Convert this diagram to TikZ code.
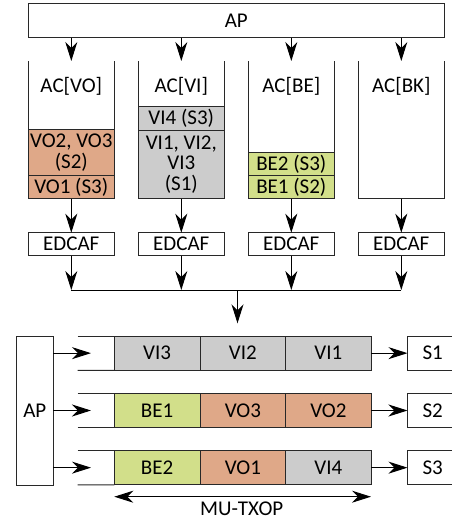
\documentclass[tikz,border=0pt]{standalone}
\usepackage{fontspec}
\setmainfont{Carlito}
\usetikzlibrary{arrows.meta}
\definecolor{voc}{RGB}{223,168,136}
\definecolor{vic}{RGB}{204,204,204}
\definecolor{bec}{RGB}{210,223,138}
\definecolor{ln}{RGB}{40,40,40}
\begin{document}
\begin{tikzpicture}[x=1pt,y=-1pt,
  lw/.style={line width=1pt, draw=ln},
  txt/.style={font=\fontsize{21}{20.5}\selectfont, align=center, inner sep=0pt},
  box/.style={lw, rectangle, inner sep=0pt, outer sep=0pt, txt},
  queue/.style={rectangle, inner sep=0pt, outer sep=0pt, minimum width=85.5, minimum height=137.7},
  arr/.style={line width=1pt, draw=black, -{Stealth[length=19pt,width=12pt,inset=6pt]}},
  arrb/.style={line width=1pt, draw=black, {Stealth[length=19pt,width=12pt,inset=6pt]}-{Stealth[length=19pt,width=12pt,inset=6pt]}},
  cell/.style={box, minimum width=85.7, minimum height=34.3},
  sbox/.style={box, minimum width=50.5, minimum height=34.3},
]
\useasboundingbox (0,0) rectangle (452,520);

% top AP
\node[box, minimum width=415.5, minimum height=34.2] (ap) at (236.3,20.6) {AP};

% queues
\node[queue] (qvo) at (71.3,129.85) {};
\node[queue] (qvi) at (181.3,129.85) {};
\node[queue] (qbe) at (291.3,129.85) {};
\node[queue] (qbk) at (401.3,129.85) {};

% queue contents
\node[box, fill=voc, minimum width=85.5, minimum height=46.4] (vo23) at (71.3,152.5) {VO2, VO3\\(S2)};
\node[box, fill=voc, minimum width=85.5, minimum height=23] (vo1) at (71.3,187.2) {VO1 (S3)};
\node[box, fill=vic, minimum width=85.5, minimum height=23.3] (vi4) at (181.3,118.35) {VI4 (S3)};
\node[box, fill=vic, minimum width=85.5, minimum height=68.7] (vi123) at (181.3,164.35) {VI1, VI2,\\VI3\\(S1)};
\node[box, fill=bec, minimum width=85.5, minimum height=23] (be2) at (291.3,164.2) {BE2 (S3)};
\node[box, fill=bec, minimum width=85.5, minimum height=23] (be1) at (291.3,187.2) {BE1 (S2)};

\foreach \q in {qvo,qvi,qbe,qbk}{
  \draw[lw] (\q.north west) -- (\q.south west) -- (\q.south east) -- (\q.north east);
}

\node[txt] (lvo) at (71.3,86) {AC[VO]};
\node[txt] (lvi) at (181.3,86) {AC[VI]};
\node[txt] (lbe) at (291.3,86) {AC[BE]};
\node[txt] (lbk) at (401.3,86) {AC[BK]};

% EDCAF
\node[box, minimum width=85.5, minimum height=23] (e1) at (71.3,244.2) {EDCAF};
\node[box, minimum width=85.5, minimum height=23] (e2) at (181.3,244.2) {EDCAF};
\node[box, minimum width=85.5, minimum height=23] (e3) at (291.3,244.2) {EDCAF};
\node[box, minimum width=85.5, minimum height=23] (e4) at (401.3,244.2) {EDCAF};

% arrows AP -> queues -> EDCAF
\foreach \q/\e in {qvo/e1,qvi/e2,qbe/e3,qbk/e4}{
  \draw[arr] (ap.south -| \q.north) -- (\q.north);
  \draw[arr] (\q.south) -- (\e.north);
}

% merge
\coordinate (m1) at (71.3,290);
\coordinate (m2) at (181.3,290);
\coordinate (m3) at (291.3,290);
\coordinate (m4) at (401.3,290);
\coordinate (mc) at (237.5,290);
\coordinate (mt) at (237.5,323.3);
\draw[arr] (e1.south) -- (m1);
\draw[arr] (e2.south) -- (m2);
\draw[arr] (e3.south) -- (m3);
\draw[arr] (e4.south) -- (m4);
\draw[line width=1pt] (m1) -- (m4);
\draw[arr] (mc) -- (mt);

% lower AP
\node[box, minimum width=37, minimum height=149] (ap2) at (34.8,410.5) {AP};

% rows
\node[cell, fill=vic] (r1a) at (157.15,353.15) {VI3};
\node[cell, fill=vic] (r1b) at (242.85,353.15) {VI2};
\node[cell, fill=vic] (r1c) at (328.35,353.15) {VI1};
\node[cell, fill=bec] (r2a) at (157.15,410.5) {BE1};
\node[cell, fill=voc] (r2b) at (242.85,410.5) {VO3};
\node[cell, fill=voc] (r2c) at (328.35,410.5) {VO2};
\node[cell, fill=bec] (r3a) at (157.15,467.65) {BE2};
\node[cell, fill=voc] (r3b) at (242.85,467.65) {VO1};
\node[cell, fill=vic] (r3c) at (328.35,467.65) {VI4};

\node[sbox] (s1) at (432.75,353.15) {S1};
\node[sbox] (s2) at (432.75,410.5) {S2};
\node[sbox] (s3) at (432.75,467.65) {S3};

\coordinate (t1) at (77.7,336);
\coordinate (b1) at (77.7,370.3);
\coordinate (t2) at (77.7,393.35);
\coordinate (b2) at (77.7,427.65);
\coordinate (t3) at (77.7,450.5);
\coordinate (b3) at (77.7,484.8);
\coordinate (in1) at (91,353.15);
\coordinate (in2) at (91,410.5);
\coordinate (in3) at (91,467.65);

\foreach \i/\c in {1/r1a,2/r2a,3/r3a}{
  \draw[lw] (t\i) -- (\c.north west);
  \draw[lw] (b\i) -- (\c.south west);
  \draw[arr] (ap2.east |- in\i) -- (in\i);
}
\draw[arr] (r1c.east) -- (s1.west);
\draw[arr] (r2c.east) -- (s2.west);
\draw[arr] (r3c.east) -- (s3.west);

% MU-TXOP
\coordinate (mu1) at (114.3,496.7);
\coordinate (mu2) at (371,496.7);
\draw[arrb] (mu1) -- (mu2);
\node[txt] (mu) at (241.7,508.8) {MU-TXOP};
\end{tikzpicture}
\end{document}
